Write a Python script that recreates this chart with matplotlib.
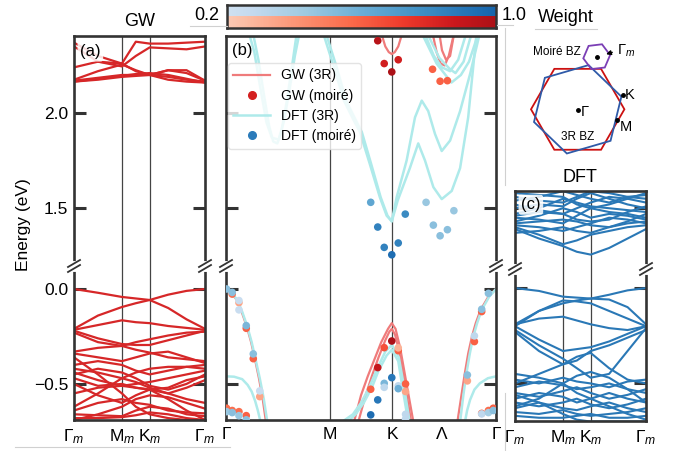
import numpy as np
import matplotlib
matplotlib.use('Agg')
import matplotlib.pyplot as plt
from matplotlib.colors import ListedColormap, Normalize
from matplotlib.lines import Line2D
from matplotlib.patches import RegularPolygon

plt.rcParams['font.family'] = ['Liberation Sans', 'DejaVu Sans']
plt.rcParams['mathtext.fontset'] = 'custom'
plt.rcParams['mathtext.rm'] = 'Liberation Sans'
plt.rcParams['mathtext.it'] = 'Liberation Sans:italic'
plt.rcParams['mathtext.bf'] = 'Liberation Sans:bold'

# ---- moire path (panels a, c) ----
k_moire = [0.0, 0.2885, 0.577, 0.744, 0.911, 1.133, 1.355, 1.577]
moire_ticks = [0.0, 0.577, 0.911, 1.577]
moire_labels = [r'$\Gamma_m$', r'M$_m$', r'K$_m$', r'$\Gamma_m$']

# GW moire conduction bands (a, top)
gw_cond_bands = [
    [2.170, 2.185, 2.200, 2.200, 2.200, 2.190, 2.175, 2.165],
    [2.165, 2.180, 2.195, 2.205, 2.210, 2.200, 2.180, 2.160],
    [2.175, 2.220, 2.255, 2.225, 2.200, 2.225, 2.210, 2.170],
    [2.350, 2.270, 2.245, 2.300, 2.345, 2.340, 2.335, 2.350],
    [2.370, 2.300, 2.260, 2.375, 2.365, 2.365, 2.370, 2.375],
    [2.165, 2.175, 2.190, 2.195, 2.200, 2.225, 2.225, 2.170],
    [2.240, 2.270, 2.260, 2.220, 2.200, 2.175, 2.165, 2.160],
]

# GW moire valence bands (a, bottom)
gw_val_bands = [
    [0.000, -0.020, -0.042, -0.050, -0.058, -0.100, -0.160, -0.210],
    [-0.210, -0.140, -0.095, -0.075, -0.058, -0.030, -0.010, 0.000],
    [-0.215, -0.190, -0.165, -0.175, -0.180, -0.195, -0.205, -0.215],
    [-0.220, -0.260, -0.290, -0.295, -0.295, -0.270, -0.245, -0.220],
    [-0.230, -0.280, -0.300, -0.280, -0.265, -0.245, -0.230, -0.225],
    [-0.330, -0.310, -0.300, -0.320, -0.335, -0.360, -0.370, -0.380],
    [-0.340, -0.360, -0.380, -0.360, -0.340, -0.330, -0.360, -0.390],
    [-0.400, -0.380, -0.400, -0.430, -0.450, -0.430, -0.410, -0.400],
    [-0.420, -0.440, -0.470, -0.440, -0.420, -0.410, -0.410, -0.420],
    [-0.440, -0.480, -0.510, -0.500, -0.490, -0.470, -0.450, -0.430],
    [-0.450, -0.420, -0.440, -0.470, -0.510, -0.530, -0.500, -0.450],
    [-0.470, -0.510, -0.500, -0.520, -0.530, -0.520, -0.480, -0.460],
    [-0.360, -0.450, -0.550, -0.620, -0.660, -0.680, -0.690, -0.690],
    [-0.620, -0.550, -0.470, -0.490, -0.520, -0.550, -0.520, -0.480],
    [-0.500, -0.560, -0.600, -0.560, -0.530, -0.550, -0.580, -0.600],
    [-0.660, -0.665, -0.670, -0.640, -0.620, -0.630, -0.660, -0.670],
    [-0.680, -0.680, -0.675, -0.665, -0.650, -0.660, -0.680, -0.690],
    [-0.640, -0.600, -0.580, -0.600, -0.610, -0.640, -0.650, -0.655],
    [-0.550, -0.520, -0.510, -0.520, -0.530, -0.580, -0.640, -0.690],
    [-0.690, -0.660, -0.620, -0.580, -0.560, -0.570, -0.600, -0.630],
]

# DFT moire conduction bands (c, top)
dft_cond_bands = [
    [1.390, 1.340, 1.300, 1.270, 1.255, 1.290, 1.340, 1.390],
    [1.400, 1.360, 1.310, 1.330, 1.360, 1.380, 1.400, 1.410],
    [1.410, 1.400, 1.380, 1.400, 1.420, 1.450, 1.440, 1.420],
    [1.430, 1.460, 1.500, 1.480, 1.450, 1.470, 1.460, 1.440],
    [1.450, 1.440, 1.420, 1.460, 1.500, 1.480, 1.470, 1.450],
    [1.470, 1.500, 1.550, 1.530, 1.510, 1.500, 1.490, 1.480],
    [1.500, 1.520, 1.510, 1.550, 1.580, 1.550, 1.520, 1.500],
    [1.520, 1.490, 1.470, 1.500, 1.530, 1.560, 1.550, 1.530],
    [1.540, 1.560, 1.590, 1.570, 1.550, 1.530, 1.560, 1.570],
    [1.560, 1.540, 1.530, 1.560, 1.590, 1.580, 1.560, 1.550],
    [1.580, 1.570, 1.560, 1.520, 1.500, 1.520, 1.550, 1.580],
    [1.420, 1.430, 1.440, 1.430, 1.410, 1.400, 1.420, 1.430],
    [1.460, 1.480, 1.470, 1.440, 1.430, 1.440, 1.480, 1.510],
    [1.370, 1.380, 1.400, 1.380, 1.370, 1.400, 1.430, 1.470],
]

# DFT moire valence bands (c, bottom)
dft_val_bands = [
    [0.000, -0.015, -0.045, -0.050, -0.055, -0.060, -0.100, -0.190],
    [-0.190, -0.120, -0.080, -0.065, -0.055, -0.035, -0.012, 0.000],
    [-0.190, -0.160, -0.150, -0.170, -0.190, -0.210, -0.220, -0.200],
    [-0.200, -0.120, -0.065, -0.070, -0.080, -0.120, -0.160, -0.200],
    [-0.220, -0.300, -0.370, -0.420, -0.470, -0.450, -0.330, -0.210],
    [-0.200, -0.270, -0.330, -0.320, -0.310, -0.280, -0.240, -0.200],
    [-0.230, -0.330, -0.400, -0.380, -0.330, -0.300, -0.260, -0.220],
    [-0.500, -0.450, -0.400, -0.360, -0.340, -0.420, -0.480, -0.500],
    [-0.480, -0.500, -0.470, -0.490, -0.500, -0.520, -0.490, -0.480],
    [-0.520, -0.490, -0.510, -0.530, -0.520, -0.500, -0.530, -0.550],
    [-0.550, -0.570, -0.540, -0.520, -0.550, -0.580, -0.560, -0.530],
    [-0.580, -0.550, -0.570, -0.600, -0.580, -0.550, -0.580, -0.600],
    [-0.600, -0.620, -0.600, -0.580, -0.610, -0.630, -0.610, -0.580],
    [-0.630, -0.600, -0.630, -0.640, -0.620, -0.600, -0.630, -0.650],
    [-0.650, -0.660, -0.640, -0.660, -0.670, -0.660, -0.650, -0.630],
    [-0.670, -0.680, -0.680, -0.670, -0.660, -0.680, -0.680, -0.670],
    [-0.560, -0.600, -0.660, -0.690, -0.700, -0.700, -0.700, -0.700],
    [-0.620, -0.580, -0.500, -0.460, -0.440, -0.470, -0.530, -0.600],
    [-0.450, -0.470, -0.500, -0.550, -0.580, -0.620, -0.660, -0.690],
]

# ---- 3R path (panel b) ----
k3r_ticks = [0.0, 0.385, 0.615, 0.8, 1.0]
k3r_labels = ['Γ', 'M', 'K', 'Λ', 'Γ']

# DFT (3R) curves: (k, E)
dft_3r_curves = [
    ([0.100, 0.120, 0.140, 0.160, 0.175, 0.190, 0.205, 0.225, 0.245, 0.262],
     [2.42, 2.28, 2.10, 1.93, 1.85, 1.84, 1.90, 2.06, 2.25, 2.42]),
    ([0.085, 0.105, 0.125, 0.150, 0.170, 0.195, 0.215, 0.235, 0.255, 0.272],
     [2.42, 2.32, 2.15, 1.95, 1.87, 1.86, 1.96, 2.12, 2.30, 2.42]),
    ([0.360, 0.400, 0.437, 0.470, 0.496, 0.533, 0.570, 0.595, 0.614, 0.632,
      0.669, 0.700, 0.725, 0.749, 0.774, 0.799, 0.830, 0.867, 0.904, 0.940],
     [2.42, 2.24, 2.065, 1.97, 1.90, 1.73, 1.556, 1.46, 1.43, 1.556,
      1.75, 1.977, 2.065, 2.01, 1.89, 1.80, 1.855, 2.01, 2.205, 2.42]),
    ([0.370, 0.410, 0.445, 0.478, 0.503, 0.538, 0.573, 0.598, 0.614, 0.636,
      0.681, 0.712, 0.737, 0.768, 0.799, 0.836, 0.867, 0.897, 0.928],
     [2.42, 2.24, 2.065, 1.97, 1.90, 1.73, 1.556, 1.46, 1.43, 1.54,
      1.71, 1.84, 1.75, 1.61, 1.547, 1.59, 1.71, 1.977, 2.42]),
    ([0.735, 0.770, 0.800, 0.830, 0.860, 0.890], [2.42, 2.30, 2.24, 2.22, 2.28, 2.42]),
    ([0.745, 0.790, 0.830, 0.850, 0.880, 0.910], [2.42, 2.29, 2.23, 2.21, 2.27, 2.42]),
    ([0.725, 0.780, 0.835, 0.870, 0.900, 0.935], [2.42, 2.26, 2.16, 2.20, 2.27, 2.42]),
    ([0.000, 0.020, 0.042, 0.060, 0.079, 0.095, 0.110, 0.125, 0.140, 0.153],
     [0.0, -0.02, -0.058, -0.12, -0.198, -0.28, -0.374, -0.47, -0.58, -0.70]),
    ([0.000, 0.030, 0.060, 0.080, 0.095, 0.108, 0.118, 0.128],
     [-0.46, -0.462, -0.475, -0.505, -0.54, -0.59, -0.64, -0.70]),
    ([0.430, 0.470, 0.500, 0.530, 0.560, 0.590, 0.614, 0.640, 0.660, 0.680],
     [-0.70, -0.66, -0.60, -0.52, -0.42, -0.33, -0.295, -0.36, -0.52, -0.70]),
    ([0.450, 0.480, 0.510, 0.540, 0.565, 0.595, 0.614, 0.638, 0.655, 0.675],
     [-0.70, -0.66, -0.60, -0.52, -0.43, -0.35, -0.32, -0.38, -0.53, -0.70]),
    ([1.000, 0.975, 0.947, 0.930, 0.916, 0.903, 0.891, 0.879, 0.867],
     [0.0, -0.04, -0.11, -0.18, -0.25, -0.34, -0.44, -0.56, -0.70]),
    ([1.000, 0.970, 0.940, 0.920, 0.904, 0.893, 0.885],
     [-0.46, -0.47, -0.497, -0.53, -0.584, -0.64, -0.70]),
]

# GW (3R) curves: (k, E)
gw_3r_curves = [
    ([0.575, 0.590, 0.603, 0.614, 0.625, 0.638, 0.653], [2.42, 2.35, 2.32, 2.31, 2.32, 2.35, 2.42]),
    ([0.765, 0.780, 0.795, 0.810, 0.825, 0.845], [2.42, 2.32, 2.26, 2.25, 2.30, 2.42]),
    ([0.790, 0.800, 0.815, 0.830, 0.845], [2.42, 2.33, 2.28, 2.30, 2.42]),
    ([0.000, 0.020, 0.040, 0.058, 0.077, 0.093, 0.108, 0.122, 0.136, 0.148],
     [0.0, -0.02, -0.058, -0.12, -0.198, -0.28, -0.374, -0.47, -0.58, -0.70]),
    ([0.474, 0.500, 0.525, 0.550, 0.575, 0.600, 0.614, 0.628, 0.645, 0.665, 0.694],
     [-0.70, -0.56, -0.46, -0.37, -0.28, -0.21, -0.18, -0.21, -0.31, -0.47, -0.70]),
    ([0.490, 0.515, 0.540, 0.565, 0.590, 0.605, 0.614, 0.626, 0.642, 0.660, 0.686],
     [-0.70, -0.57, -0.46, -0.36, -0.27, -0.225, -0.21, -0.24, -0.33, -0.48, -0.70]),
    ([1.000, 0.972, 0.943, 0.925, 0.911, 0.897, 0.885, 0.872, 0.857],
     [0.0, -0.04, -0.11, -0.18, -0.25, -0.34, -0.44, -0.56, -0.70]),
]

# unfolded moire states with weights
gw_moire_k = [0.562, 0.586, 0.638, 0.614, 0.765, 0.793, 0.820,
              0.023, 0.048, 0.075, 0.101, 0.125, 0.002, 0.023, 0.048, 0.075,
              0.614, 0.586, 0.638, 0.562, 0.536, 0.665, 0.665, 0.638,
              0.947, 0.920, 0.894, 0.947, 0.972, 0.990]
gw_moire_e = [2.380, 2.260, 2.280, 2.216, 2.230, 2.167, 2.170,
              -0.027, -0.072, -0.207, -0.367, -0.567, -0.628, -0.640, -0.646, -0.667,
              -0.274, -0.309, -0.325, -0.414, -0.528, -0.500, -0.540, -0.310,
              -0.119, -0.277, -0.484, -0.655, -0.640, -0.628]
gw_moire_w = [0.95, 0.85, 0.85, 1.00, 0.60, 0.60, 0.60,
              0.55, 0.35, 0.60, 0.60, 0.35, 0.55, 0.55, 0.55, 0.60,
              1.00, 0.65, 0.60, 0.90, 0.60, 0.60, 0.35, 0.30,
              0.60, 0.60, 0.35, 0.55, 0.55, 0.60]

dft_moire_k = [0.536, 0.562, 0.586, 0.614, 0.638, 0.664, 0.741, 0.768, 0.793, 0.820, 0.844,
               0.002, 0.023, 0.048, 0.048, 0.075, 0.101, 0.125, 0.002, 0.023, 0.048, 0.075,
               0.614, 0.586, 0.586, 0.638, 0.638, 0.562, 0.536, 0.665, 0.665,
               0.972, 0.947, 0.920, 0.894, 0.947, 0.972, 0.990]
dft_moire_e = [1.530, 1.400, 1.293, 1.254, 1.316, 1.468, 1.530, 1.410, 1.354, 1.386, 1.486,
               0.000, -0.018, -0.061, -0.110, -0.193, -0.342, -0.537, -0.646, -0.651, -0.667, -0.689,
               -0.467, -0.497, -0.518, -0.510, -0.525, -0.584, -0.663, -0.660, -0.685,
               -0.023, -0.107, -0.247, -0.453, -0.658, -0.651, -0.640]
dft_moire_w = [0.65, 0.85, 0.85, 0.95, 0.85, 0.80, 0.45, 0.50, 0.50, 0.50, 0.45,
               0.50, 0.50, 0.25, 0.25, 0.55, 0.50, 0.25, 0.45, 0.50, 0.45, 0.50,
               0.90, 0.55, 0.30, 0.30, 0.60, 0.90, 0.95, 0.30, 0.30,
               0.50, 0.50, 0.30, 0.50, 0.30, 0.40, 0.50]

# ---- layout helpers (pixel coords of a 675x451 canvas) ----
W, H = 675, 451
LINE = '#333333'


def rect(left, top, right, bottom):
    return [left / W, 1 - bottom / H, (right - left) / W, (bottom - top) / H]


def style_pair(top, bot, xmax, top_ticks, top_lim, bot_lim):
    for ax in (top, bot):
        ax.set_xlim(0, xmax)
        for s in ax.spines.values():
            s.set_linewidth(1.9)
            s.set_color(LINE)
        ax.tick_params(axis='y', direction='in', left=True, right=True, length=8.5,
                       width=2.2, color=LINE, labelsize=12.5, pad=4)
        ax.tick_params(axis='x', length=0, labelsize=12.5, pad=5)
    top.spines['bottom'].set_visible(False)
    bot.spines['top'].set_visible(False)
    top.set_xticks([])
    top.set_ylim(*top_lim)
    bot.set_ylim(*bot_lim)
    top.set_yticks(top_ticks)
    bot.set_yticks([-0.5, 0.0])


fig = plt.figure(figsize=(6.75, 4.51), dpi=100)
fig.patch.set_facecolor('white')

ax_a_top = fig.add_axes(rect(74, 36, 205, 266))
ax_a_bot = fig.add_axes(rect(74, 266, 205, 420))
ax_b_top = fig.add_axes(rect(226, 36, 496, 266))
ax_b_bot = fig.add_axes(rect(226, 266, 496, 420))
ax_c_top = fig.add_axes(rect(515, 191, 646, 269))
ax_c_bot = fig.add_axes(rect(515, 269, 646, 421))

style_pair(ax_a_top, ax_a_bot, 1.577, [1.5, 2.0], (1.195, 2.405), (-0.69, 0.121))
style_pair(ax_b_top, ax_b_bot, 1.0, [1.5, 2.0], (1.195, 2.405), (-0.69, 0.121))
style_pair(ax_c_top, ax_c_bot, 1.577, [1.5], (1.179, 1.591), (-0.697, 0.10))

ax_a_top.set_yticklabels(['1.5', '2.0'])
ax_a_bot.set_yticklabels(['\u22120.5', '0.0'])
for ax in (ax_b_top, ax_b_bot, ax_c_top, ax_c_bot):
    ax.set_yticklabels([])

for ax in (ax_a_bot, ax_c_bot):
    ax.set_xticks(moire_ticks)
    ax.set_xticklabels(moire_labels)
ax_b_bot.set_xticks(k3r_ticks)
ax_b_bot.set_xticklabels(k3r_labels)

# high symmetry lines
for ax in (ax_a_top, ax_a_bot, ax_c_top, ax_c_bot):
    for k in moire_ticks[1:3]:
        ax.axvline(k, color='#444444', lw=0.9, zorder=1)
for ax in (ax_b_top, ax_b_bot):
    for k in k3r_ticks[1:3]:
        ax.axvline(k, color='#444444', lw=0.9, zorder=1)

# panel a / c bands
for band in gw_cond_bands:
    ax_a_top.plot(k_moire, band, color='#d62728', lw=1.6, zorder=2)
for band in gw_val_bands:
    ax_a_bot.plot(k_moire, band, color='#d62728', lw=1.6, zorder=2)
for band in dft_cond_bands:
    ax_c_top.plot(k_moire, band, color='#2a78b6', lw=1.5, zorder=2)
for band in dft_val_bands:
    ax_c_bot.plot(k_moire, band, color='#2a78b6', lw=1.5, zorder=2)

# panel b
reds_t = ListedColormap(plt.get_cmap('Reds')(np.linspace(0.2, 0.85, 256)))
blues_t = ListedColormap(plt.get_cmap('Blues')(np.linspace(0.2, 0.8, 256)))
wnorm = Normalize(0.2, 1.0)

for ax in (ax_b_top, ax_b_bot):
    for k, e in gw_3r_curves:
        ax.plot(k, e, color='#ef7b7b', lw=1.6, zorder=2)
    for k, e in dft_3r_curves:
        ax.plot(k, e, color='#aeeaea', lw=1.8, zorder=2)
    ax.scatter(gw_moire_k, gw_moire_e, c=gw_moire_w, cmap=reds_t, norm=wnorm,
               s=30, edgecolors='none', zorder=3)
    ax.scatter(dft_moire_k, dft_moire_e, c=dft_moire_w, cmap=blues_t, norm=wnorm,
               s=30, edgecolors='none', zorder=4)

handles = [Line2D([], [], color='#ef7b7b', lw=1.6),
           Line2D([], [], ls='', marker='o', ms=5.5, color='#d42020'),
           Line2D([], [], color='#aeeaea', lw=1.8),
           Line2D([], [], ls='', marker='o', ms=5.5, color='#2b7bba')]
leg = ax_b_top.legend(handles, ['GW (3R)', 'GW (moiré)', 'DFT (3R)', 'DFT (moiré)'],
                      loc='upper left', bbox_to_anchor=(0.007, 0.883), borderaxespad=0,
                      fontsize=10, framealpha=0.8, edgecolor='#dddddd',
                      handlelength=2.6, labelspacing=0.45)
leg.set_zorder(10)

# panel labels
box = dict(boxstyle='round,pad=0.15', fc='white', ec='none', alpha=0.85)
ax_a_top.text(0.046, 0.965, '(a)', transform=ax_a_top.transAxes, fontsize=12,
              va='top', ha='left', bbox=box, zorder=10)
ax_b_top.text(0.022, 0.97, '(b)', transform=ax_b_top.transAxes, fontsize=12,
              va='top', ha='left', zorder=10)
ax_c_top.text(0.046, 0.92, '(c)', transform=ax_c_top.transAxes, fontsize=12,
              va='top', ha='left', bbox=box, zorder=10)

fig.text(140 / W, 1 - 21 / H, 'GW', ha='center', va='center', fontsize=13)
fig.text(580 / W, 1 - 177 / H, 'DFT', ha='center', va='center', fontsize=13)
fig.text(24 / W, 1 - 225 / H, 'Energy (eV)', ha='center', va='center',
         rotation=90, fontsize=12.5)

# axis breaks
def break_mark(x_px, y_px):
    fig.add_artist(Line2D([x_px / W, x_px / W], [1 - (y_px - 3) / H, 1 - (y_px + 3) / H],
                          color='white', lw=3.5, transform=fig.transFigure))
    for d in (-2.5, 2.5):
        fig.add_artist(Line2D([(x_px - 6) / W, (x_px + 6) / W],
                              [1 - (y_px + d + 3.5) / H, 1 - (y_px + d - 3.5) / H],
                              color=LINE, lw=1.3, transform=fig.transFigure))


for xp in (74, 205, 226, 496):
    break_mark(xp, 266)
for xp in (515, 646):
    break_mark(xp, 269)

# weight colour bar (blue on top, red below)
ax_cb = fig.add_axes(rect(227, 5, 496, 28))
grad = np.linspace(0.2, 1.0, 256)[None, :]
ax_cb.imshow(grad, cmap=blues_t, norm=wnorm, extent=[0.2, 1.0, 0.5, 1.0], aspect='auto')
ax_cb.imshow(grad, cmap=reds_t, norm=wnorm, extent=[0.2, 1.0, 0.0, 0.5], aspect='auto')
ax_cb.set_xlim(0.2, 1.0)
ax_cb.set_ylim(0, 1)
ax_cb.set_xticks([])
ax_cb.set_yticks([])
for s in ax_cb.spines.values():
    s.set_linewidth(1.8)
    s.set_color(LINE)
fig.text(207 / W, 1 - 16 / H, '0.2', ha='center', va='center', fontsize=13)
fig.text(514 / W, 1 - 16 / H, '1.0', ha='center', va='center', fontsize=13)
fig.text(566 / W, 1 - 17 / H, 'Weight', ha='center', va='center', fontsize=13)

# faint frame remnants
faint = [([190, 227], [26, 26]), ([497, 513], [25, 25]), ([535, 597], [29, 29]),
         ([505, 505], [28, 185]), ([505, 505], [393, 451]), ([15, 230], [447, 447])]
for xs, ys in faint:
    fig.add_artist(Line2D([x / W for x in xs], [1 - y / H for y in ys], color='#d0d0d0',
                          lw=0.8, transform=fig.transFigure))

# brillouin zone sketch
ax_bz = fig.add_axes(rect(520, 38, 645, 165))
ax_bz.set_xlim(520, 645)
ax_bz.set_ylim(-165, -38)
ax_bz.set_aspect('equal')
ax_bz.axis('off')
bz_center = (577.7, -109.3)
ax_bz.add_patch(RegularPolygon(bz_center, 6, radius=46.7, orientation=np.pi / 6,
                               fill=False, ec='#cc1111', lw=1.3))
ax_bz.add_patch(RegularPolygon(bz_center, 6, radius=45.5, orientation=np.pi / 6 + np.radians(16.2),
                               fill=False, ec='#2f5aa8', lw=1.3))
ax_bz.add_patch(RegularPolygon((596.7, -56.7), 6, radius=13.5, orientation=np.pi / 6 + 0.12,
                               fill=False, ec='#7b3fb5', lw=1.3))
ax_bz.plot([596.7, 578.3, 622.7, 617.3], [-56.7, -109.7, -95.0, -120.0], ls='', marker='o',
           ms=2.5, color='black')
ax_bz.annotate('', xy=(603.5, -55.0), xytext=(615, -51.5),
               arrowprops=dict(arrowstyle='-|>', color='black', lw=0.9, mutation_scale=7))
ax_bz.text(617, -50.5, r'$\Gamma_m$', fontsize=10.5, ha='left', va='center')
ax_bz.text(581, -52, 'Moiré BZ', fontsize=8.5, ha='right', va='center')
ax_bz.text(581, -112, 'Γ', fontsize=10.5, ha='left', va='center')
ax_bz.text(625, -95.5, 'K', fontsize=10.5, ha='left', va='center')
ax_bz.text(619.5, -127, 'M', fontsize=10.5, ha='left', va='center')
ax_bz.text(578, -137, '3R BZ', fontsize=8.5, ha='center', va='center')

fig.savefig('out.png', dpi=100, facecolor='white')
